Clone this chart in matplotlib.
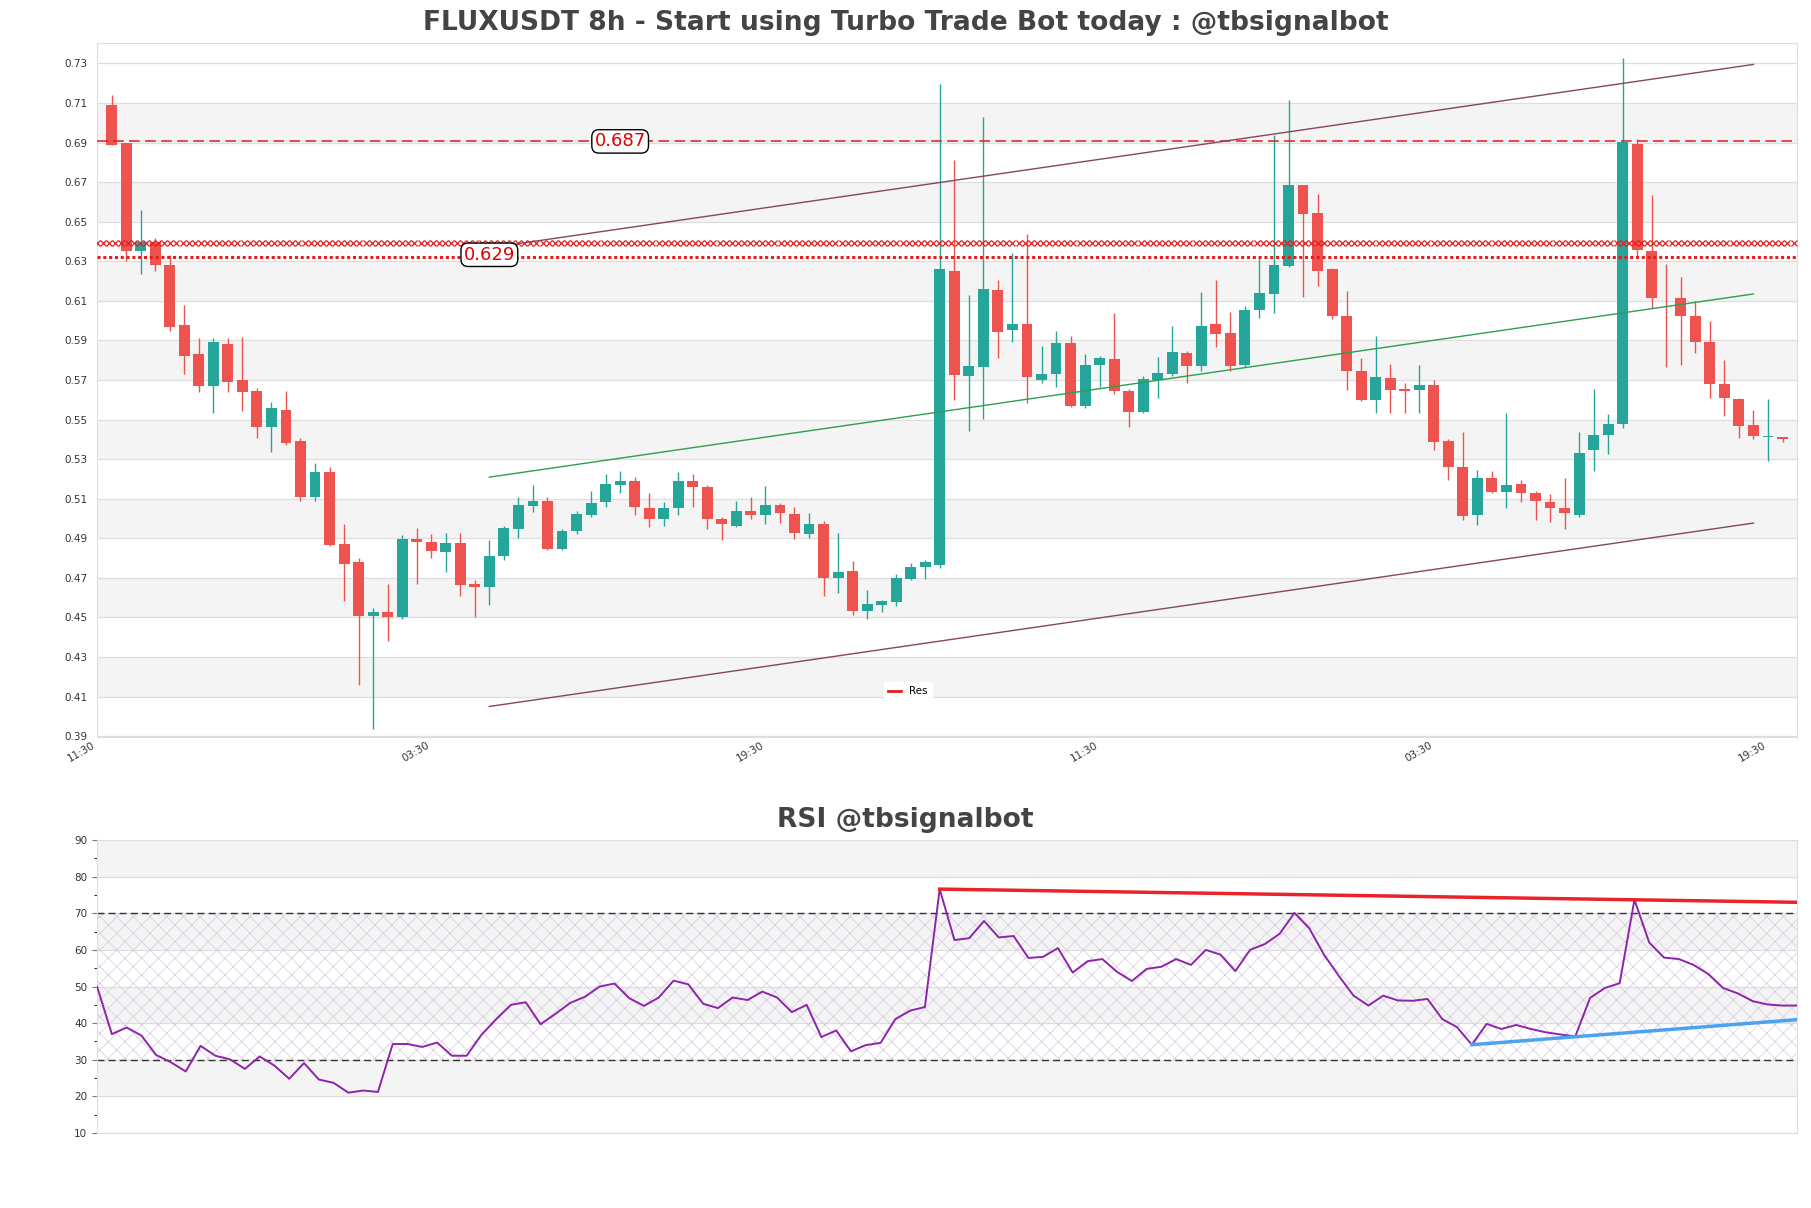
import numpy as np
import matplotlib
matplotlib.use("Agg")
import matplotlib.pyplot as plt

# candle data (8h candles)
opens = [0.709, 0.690, 0.635, 0.640, 0.628, 0.598, 0.583, 0.567, 0.588, 0.570,
         0.5645, 0.546, 0.555, 0.539, 0.511, 0.5235, 0.487, 0.478, 0.4505, 0.4525,
         0.450, 0.4898, 0.488, 0.483, 0.4875, 0.467, 0.4655, 0.481, 0.4945, 0.5065,
         0.509, 0.4845, 0.4935, 0.502, 0.5085, 0.517, 0.519, 0.5055, 0.500, 0.5055,
         0.519, 0.516, 0.500, 0.496, 0.504, 0.502, 0.507, 0.5025, 0.492, 0.497,
         0.470, 0.4735, 0.4533, 0.4562, 0.458, 0.4695, 0.4757, 0.4764, 0.625, 0.572,
         0.5765, 0.6155, 0.5952, 0.5985, 0.5702, 0.573, 0.5887, 0.557, 0.5776, 0.5806,
         0.5646, 0.5538, 0.570, 0.5732, 0.5834, 0.5771, 0.5983, 0.5938, 0.5776, 0.6056,
         0.6135, 0.6276, 0.6684, 0.6543, 0.626, 0.6026, 0.5744, 0.5598, 0.571, 0.5656,
         0.5649, 0.5674, 0.5394, 0.5262, 0.5019, 0.5204, 0.5135, 0.5174, 0.5128, 0.5084,
         0.5054, 0.5017, 0.5348, 0.5424, 0.5477, 0.6895, 0.635, 0.6113, 0.6114, 0.6026,
         0.5892, 0.5679, 0.5605, 0.5475, 0.5412, 0.541]
highs = [0.714, 0.690, 0.656, 0.642, 0.633, 0.608, 0.591, 0.591, 0.591, 0.5915,
         0.566, 0.559, 0.5645, 0.5405, 0.528, 0.526, 0.497, 0.480, 0.455, 0.467,
         0.4915, 0.495, 0.492, 0.4925, 0.4925, 0.469, 0.489, 0.496, 0.511, 0.517,
         0.511, 0.4945, 0.504, 0.514, 0.5225, 0.524, 0.521, 0.513, 0.5085, 0.5235,
         0.5225, 0.517, 0.501, 0.509, 0.511, 0.5165, 0.508, 0.506, 0.503, 0.4985,
         0.4925, 0.4785, 0.4637, 0.459, 0.472, 0.4776, 0.479, 0.7196, 0.681, 0.613,
         0.703, 0.6205, 0.634, 0.644, 0.587, 0.595, 0.592, 0.583, 0.582, 0.6038,
         0.5656, 0.5718, 0.5818, 0.5973, 0.5848, 0.6143, 0.6205, 0.6045, 0.6073, 0.6328,
         0.694, 0.7115, 0.6685, 0.664, 0.6265, 0.615, 0.5811, 0.5922, 0.578, 0.5686,
         0.5776, 0.5702, 0.540, 0.5436, 0.5246, 0.524, 0.5535, 0.5197, 0.5139, 0.5123,
         0.5204, 0.5436, 0.5656, 0.5528, 0.733, 0.6916, 0.6633, 0.6288, 0.6223, 0.610,
         0.5998, 0.5802, 0.5607, 0.555, 0.5605, 0.5412]
lows = [0.689, 0.630, 0.6235, 0.625, 0.595, 0.573, 0.564, 0.5535, 0.564, 0.5545,
        0.5405, 0.5335, 0.537, 0.509, 0.509, 0.486, 0.4585, 0.416, 0.3935, 0.438,
        0.449, 0.467, 0.480, 0.473, 0.461, 0.450, 0.4565, 0.479, 0.490, 0.5035,
        0.484, 0.484, 0.492, 0.501, 0.506, 0.513, 0.502, 0.4955, 0.496, 0.502,
        0.506, 0.4945, 0.489, 0.4955, 0.500, 0.497, 0.4975, 0.4895, 0.490, 0.461,
        0.4625, 0.451, 0.4493, 0.4525, 0.456, 0.4687, 0.4695, 0.4748, 0.560, 0.544,
        0.5505, 0.581, 0.5894, 0.5585, 0.5683, 0.5667, 0.5565, 0.5556, 0.5663, 0.5628,
        0.5463, 0.5535, 0.5607, 0.5718, 0.5683, 0.5748, 0.5869, 0.5744, 0.5767, 0.6015,
        0.6038, 0.627, 0.612, 0.6177, 0.6008, 0.565, 0.5593, 0.5535, 0.5535, 0.5533,
        0.5535, 0.5348, 0.5197, 0.4991, 0.4968, 0.5128, 0.5054, 0.5081, 0.4994, 0.498,
        0.4949, 0.5007, 0.5239, 0.5324, 0.5459, 0.6316, 0.6066, 0.5766, 0.5776, 0.5834,
        0.561, 0.5517, 0.5405, 0.540, 0.5292, 0.5385]
closes = [0.689, 0.635, 0.640, 0.628, 0.597, 0.582, 0.567, 0.589, 0.569, 0.564,
          0.546, 0.556, 0.538, 0.511, 0.5235, 0.4865, 0.477, 0.4505, 0.4525, 0.450,
          0.4895, 0.4882, 0.4835, 0.4875, 0.4665, 0.4655, 0.481, 0.495, 0.507, 0.509,
          0.4845, 0.4935, 0.5025, 0.508, 0.5175, 0.519, 0.506, 0.500, 0.5055, 0.519,
          0.516, 0.500, 0.497, 0.504, 0.502, 0.507, 0.503, 0.4925, 0.497, 0.470,
          0.473, 0.4535, 0.4567, 0.4581, 0.470, 0.4757, 0.478, 0.626, 0.5725, 0.577,
          0.616, 0.5945, 0.5985, 0.5715, 0.5732, 0.5887, 0.557, 0.5776, 0.581, 0.5642,
          0.5538, 0.5707, 0.5734, 0.5841, 0.5771, 0.5973, 0.5934, 0.5771, 0.6054, 0.614,
          0.628, 0.6684, 0.654, 0.6253, 0.6026, 0.5746, 0.5598, 0.5714, 0.565, 0.5642,
          0.5674, 0.5389, 0.5262, 0.5012, 0.5204, 0.5135, 0.5169, 0.5128, 0.5086, 0.5054,
          0.5026, 0.5331, 0.5424, 0.5477, 0.6902, 0.6355, 0.6114, 0.6112, 0.6026, 0.5894,
          0.5679, 0.561, 0.547, 0.5417, 0.5413, 0.540]

# x tick labels (every 23 candles, first one just left of candle 0)
tick_idx = [-1, 22, 45, 68, 91, 114]
tick_labels = ["11:30", "03:30", "19:30", "11:30", "03:30", "19:30"]

# support / resistance levels and labels
res_dashed = 0.6906
res_dashed_label = "0.687"
res_dashed_label_x = 35
res_dotted = 0.6323
res_dotted_label = "0.629"
res_dotted_label_x = 26
res_zone = 0.6394

# channel lines
chan_x = [26, 113]
chan_upper = [0.6368, 0.7295]
chan_mid = [0.5209, 0.6135]
chan_lower = [0.4050, 0.4977]

# RSI
rsi = [50.0, 37.0, 38.8, 36.6, 31.3, 29.3, 26.8, 33.8, 31.1, 30.1,
       27.5, 30.9, 28.4, 24.8, 29.1, 24.6, 23.7, 21.0, 21.6, 21.2,
       34.3, 34.3, 33.5, 34.7, 31.1, 31.1, 36.8, 41.1, 45.0, 45.7,
       39.7, 42.5, 45.5, 47.2, 50.0, 50.8, 46.8, 44.7, 47.0, 51.6,
       50.6, 45.3, 44.1, 47.0, 46.3, 48.6, 47.0, 43.0, 45.0, 36.2,
       38.0, 32.3, 34.0, 34.6, 41.1, 43.4, 44.4, 76.6, 62.7, 63.2,
       67.9, 63.4, 63.8, 57.8, 58.1, 60.5, 53.8, 56.9, 57.5, 54.0,
       51.5, 54.8, 55.4, 57.5, 55.9, 60.0, 58.7, 54.2, 60.0, 61.6,
       64.4, 70.1, 65.9, 58.7, 52.9, 47.5, 44.8, 47.5, 46.2, 46.1,
       46.6, 41.1, 38.9, 34.1, 39.8, 38.4, 39.5, 38.4, 37.5, 36.9,
       36.4, 46.9, 49.6, 50.9, 73.7, 62.0, 57.9, 57.5, 55.9, 53.4,
       49.6, 48.1, 46.0, 45.1, 44.8, 44.8]
rsi_res_x = [57, 115]
rsi_res_y = [76.6, 73.0]
rsi_sup_x = [93, 115]
rsi_sup_y = [34.1, 40.95]

o = np.array(opens)
h = np.array(highs)
l = np.array(lows)
c = np.array(closes)
x = np.arange(len(o))

up_col = '#26a69a'
dn_col = '#ef5350'
band_col = '#f4f4f4'
grid_col = '#dedede'
txt_col = '#444444'

fig = plt.figure(figsize=(18.11, 12.08), dpi=100)
ax1 = fig.add_axes([0.0536, 0.3899, 0.9387, 0.5745])
ax2 = fig.add_axes([0.0536, 0.0621, 0.9387, 0.2425])

# ---- price panel ----
ymin, ymax = l.min() * 0.99, h.max() * 1.01
yt = np.round(np.arange(0.39, 0.7401, 0.02), 2)
for k in range(1, len(yt) - 1, 2):
    ax1.axhspan(yt[k], yt[k + 1], color=band_col, zorder=0, lw=0)
for v in yt:
    ax1.axhline(v, color=grid_col, lw=0.9, zorder=0.5)

cols = np.where(c >= o, up_col, dn_col)
ax1.vlines(x, l, h, colors=cols, lw=1.0, zorder=2)
body_lo = np.minimum(o, c)
body_h = np.maximum(np.abs(c - o), 0.0004)
ax1.bar(x, body_h, bottom=body_lo, width=0.75, color=cols, zorder=3, lw=0)

xl = (-1, len(o))
# resistance zone drawn as a row of x markers
zx = np.arange(xl[0], xl[1] + 0.01, 0.42)
ax1.plot(zx, np.full(len(zx), res_zone), ls='none', marker='x', ms=4.2, mew=0.9,
         color='#e02020', zorder=4)
ax1.axhline(res_dashed, color='#dd1c1c', lw=1.1, ls=(0, (7, 3.5)), zorder=4)
ax1.axhline(res_dotted, color='#e02020', lw=2.2, ls=(0, (1, 0.9)), zorder=4, label='Res')

ax1.plot(chan_x, chan_upper, color='#874560', lw=1.0, zorder=4)
ax1.plot(chan_x, chan_lower, color='#874560', lw=1.0, zorder=4)
ax1.plot(chan_x, chan_mid, color='#2e9e4f', lw=1.0, zorder=4)

bbox = dict(boxstyle='round,pad=0.15,rounding_size=0.4', fc='white', ec='black', lw=1)
ax1.text(res_dashed_label_x, res_dashed, res_dashed_label, color='#e00000',
         fontsize=13, ha='center', va='center', bbox=bbox, zorder=6)
ax1.text(res_dotted_label_x, res_dotted + 0.001, res_dotted_label, color='#e00000',
         fontsize=13, ha='center', va='center', bbox=bbox, zorder=6)

ax1.set_xlim(*xl)
ax1.set_ylim(ymin, ymax)
ax1.set_yticks(yt)
ax1.set_yticklabels([f"{v:.2f}" for v in yt])
ax1.set_xticks(tick_idx)
ax1.set_xticklabels(tick_labels, rotation=30, ha='right')
ax1.tick_params(axis='both', length=0, labelsize=7.5, labelcolor='#333333', pad=7)
ax1.tick_params(axis='x', pad=2)
for s in ax1.spines.values():
    s.set_color(grid_col)

leg = ax1.legend(loc='lower center', bbox_to_anchor=(0.477, 0.045), fontsize=7.5,
                 frameon=True, framealpha=1, edgecolor='white', handlelength=1.2)
leg.legend_handles[0].set_linestyle('-')
leg.legend_handles[0].set_linewidth(2)

# ---- RSI panel ----
rx = np.arange(len(rsi))
rt = np.arange(10, 91, 10)
for k in range(1, len(rt) - 1, 2):
    ax2.axhspan(rt[k], rt[k + 1], color=band_col, zorder=0, lw=0)
for v in rt:
    ax2.axhline(v, color=grid_col, lw=0.9, zorder=0.5)
plt.rcParams['hatch.linewidth'] = 0.5
ax2.fill_between([rx[0], rx[-1]], 30, 70, facecolor='none', edgecolor='#d4c8de',
                 hatch='xx', lw=0, zorder=1)
ax2.axhline(30, color='#333333', lw=1.0, ls=(0, (5, 3)), zorder=2)
ax2.axhline(70, color='#333333', lw=1.0, ls=(0, (5, 3)), zorder=2)
ax2.plot(rx, rsi, color='#8e24aa', lw=1.4, zorder=3)
ax2.plot(rsi_res_x, rsi_res_y, color='#e8232a', lw=2.5, zorder=4)
ax2.plot(rsi_sup_x, rsi_sup_y, color='#4aa3f0', lw=2.5, zorder=4)
ax2.set_xlim(rx[0], rx[-1])
ax2.set_ylim(10, 90)
ax2.set_yticks(rt)
ax2.set_yticks(np.arange(15, 90, 10), minor=True)
ax2.set_xticks([])
ax2.tick_params(axis='y', labelsize=7.5, labelcolor='#333333', color='#777777')
for s in ax2.spines.values():
    s.set_color(grid_col)

fig.text(0.5, 1 - 23 / 1208, "FLUXUSDT 8h - Start using Turbo Trade Bot today : @tbsignalbot",
         ha='center', va='center', fontsize=19.1, fontweight='bold', color=txt_col)
fig.text(0.5, 1 - 820 / 1208, "RSI @tbsignalbot",
         ha='center', va='center', fontsize=19.1, fontweight='bold', color=txt_col)

fig.savefig("out.png", dpi=100)
